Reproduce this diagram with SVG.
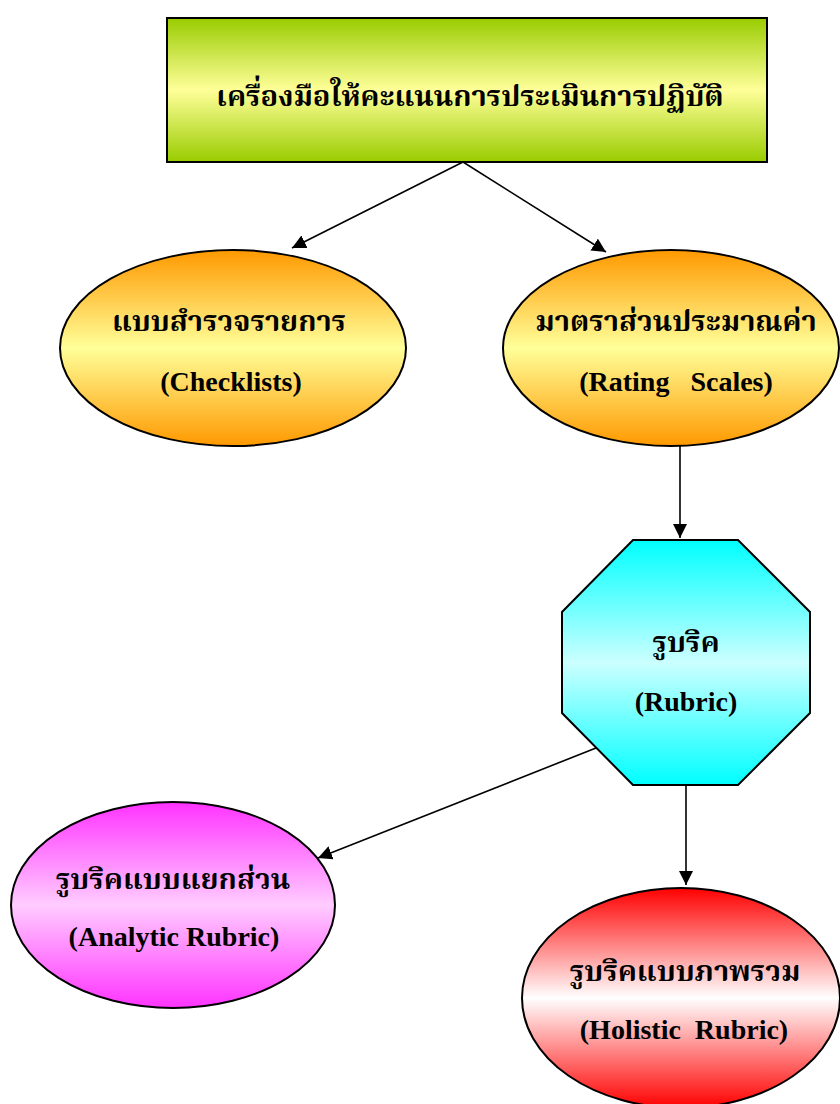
<svg xmlns="http://www.w3.org/2000/svg" width="840" height="1104" viewBox="0 0 840 1104">
<defs>
<linearGradient id="gGreen" x1="0" y1="0" x2="0" y2="1">
<stop offset="0" stop-color="#99cc00"/><stop offset="0.5" stop-color="#ffff99"/><stop offset="1" stop-color="#99cc00"/>
</linearGradient>
<linearGradient id="gOrange" x1="0" y1="0" x2="0" y2="1">
<stop offset="0" stop-color="#ff9900"/><stop offset="0.5" stop-color="#ffff99"/><stop offset="1" stop-color="#ff9900"/>
</linearGradient>
<linearGradient id="gCyan" x1="0" y1="0" x2="0" y2="1">
<stop offset="0" stop-color="#00ffff"/><stop offset="0.5" stop-color="#ccffff"/><stop offset="1" stop-color="#00ffff"/>
</linearGradient>
<linearGradient id="gPink" x1="0" y1="0" x2="0" y2="1">
<stop offset="0" stop-color="#ff33ff"/><stop offset="0.5" stop-color="#ffccff"/><stop offset="1" stop-color="#ff33ff"/>
</linearGradient>
<linearGradient id="gRed" x1="0" y1="0" x2="0" y2="1">
<stop offset="0" stop-color="#ff0000"/><stop offset="0.5" stop-color="#ffffff"/><stop offset="1" stop-color="#ff0000"/>
</linearGradient>
<marker id="arr" viewBox="0 0 10 10" refX="10" refY="5" markerWidth="14" markerHeight="14" markerUnits="userSpaceOnUse" orient="auto">
<path d="M0,0 L10,5 L0,10 z" fill="#000"/>
</marker>
<style>
.shape{stroke:#000;stroke-width:2}
.th{font-family:"Liberation Serif","Noto Serif Thai","Noto Sans Thai","DejaVu Sans",serif;font-weight:bold;font-size:29px;text-anchor:middle;fill:#000}
.en{font-family:"Liberation Serif",serif;font-weight:bold;font-size:28px;text-anchor:middle;fill:#000}
.conn{stroke:#000;stroke-width:1.6;fill:none;marker-end:url(#arr)}
</style>
</defs>
<rect width="840" height="1104" fill="#fff"/>
<g id="connectors">
<line class="conn" x1="463" y1="162" x2="292" y2="248"/>
<line class="conn" x1="463" y1="162" x2="606" y2="252"/>
<line class="conn" x1="680" y1="446" x2="680" y2="538"/>
<line class="conn" x1="596" y1="748" x2="318" y2="858"/>
<line class="conn" x1="686" y1="785" x2="686" y2="885"/>
</g>
<g id="node-title">
<rect class="shape" x="167" y="18" width="600" height="144" fill="url(#gGreen)"/>
<text class="th" x="470" y="106" font-size="31">เครื่องมือให้คะแนนการประเมินการปฏิบัติ</text>
</g>
<g id="node-checklists">
<ellipse class="shape" cx="233" cy="348" rx="173" ry="98" fill="url(#gOrange)"/>
<text class="th" x="229" y="331">แบบสำรวจรายการ</text>
<text class="en" x="231" y="391">(Checklists)</text>
</g>
<g id="node-rating">
<ellipse class="shape" cx="671" cy="348" rx="168" ry="98" fill="url(#gOrange)"/>
<text class="th" x="676" y="331">มาตราส่วนประมาณค่า</text>
<text class="en" x="676" y="391" xml:space="preserve">(Rating   Scales)</text>
</g>
<g id="node-rubric">
<polygon class="shape" points="633,540 738,540 810,612 810,713 738,785 633,785 562,713 562,612" fill="url(#gCyan)"/>
<text class="th" x="686" y="652">รูบริค</text>
<text class="en" x="686" y="711">(Rubric)</text>
</g>
<g id="node-analytic">
<ellipse class="shape" cx="173" cy="905" rx="162" ry="103" fill="url(#gPink)"/>
<text class="th" x="173" y="889">รูบริคแบบแยกส่วน</text>
<text class="en" x="174" y="946">(Analytic Rubric)</text>
</g>
<g id="node-holistic">
<ellipse class="shape" cx="681" cy="998" rx="159" ry="110" fill="url(#gRed)"/>
<text class="th" x="685" y="981">รูบริคแบบภาพรวม</text>
<text class="en" x="684" y="1039" xml:space="preserve">(Holistic  Rubric)</text>
</g>
</svg>
